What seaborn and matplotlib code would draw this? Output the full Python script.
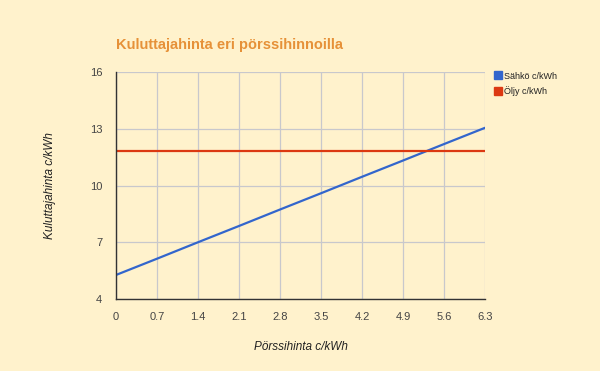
import matplotlib
matplotlib.use("Agg")
import matplotlib.pyplot as plt
import seaborn as sns
import pandas as pd
from matplotlib.lines import Line2D

x_vals = [0, 0.7, 1.4, 2.1, 2.8, 3.5, 4.2, 4.9, 5.6, 6.3]
sahko = [5.27, 6.13, 7.0, 7.86, 8.73, 9.59, 10.46, 11.32, 12.19, 13.05]
oljy = [11.83, 11.83, 11.83, 11.83, 11.83, 11.83, 11.83, 11.83, 11.83, 11.83]
series_names = ["Sähkö c/kWh", "Öljy c/kWh"]
y_ticks = [4, 7, 10, 13, 16]
x_ticks = x_vals
x_tick_labels = ["0", "0.7", "1.4", "2.1", "2.8", "3.5", "4.2", "4.9", "5.6", "6.3"]
colors = ["#3366CC", "#DC3912"]

df = pd.DataFrame({
    "x": x_vals * 2,
    "y": sahko + oljy,
    "s": [series_names[0]] * len(x_vals) + [series_names[1]] * len(x_vals),
})

sns.set_theme(style="white")
plt.rcParams["font.family"] = ["Arial", "Liberation Sans", "DejaVu Sans"]
bg = "#FFF2CC"
fig = plt.figure(figsize=(6, 3.71), dpi=100, facecolor=bg)
ax = fig.add_axes([116/600, 1-299/371, (485-116)/600, (299-72)/371])
ax.set_facecolor(bg)

sns.lineplot(data=df, x="x", y="y", hue="s", palette=colors, linewidth=1.6, ax=ax, legend=False, zorder=3)

ax.set_xlim(0, 6.3)
ax.set_ylim(4, 16)
ax.set_xticks(x_ticks)
ax.set_xticklabels(x_tick_labels)
ax.set_yticks(y_ticks)
ax.grid(True, color="#C8C8CC", linewidth=0.9)
for s in ["top", "right"]:
    ax.spines[s].set_visible(False)
for s in ["left", "bottom"]:
    ax.spines[s].set_color("#333333")
    ax.spines[s].set_linewidth(1.0)
    ax.spines[s].set_zorder(4)
ax.tick_params(axis="both", length=0, labelsize=8, colors="#444444")
ax.tick_params(axis="y", pad=10)
ax.tick_params(axis="x", pad=9)

ax.set_xlabel("Pörssihinta c/kWh", fontsize=8.5, style="italic", color="#222222", labelpad=14)
ax.set_ylabel("Kuluttajahinta c/kWh", fontsize=8.5, style="italic", color="#222222", labelpad=24)

fig.text(116/600, 1-45/371, "Kuluttajahinta eri pörssihinnoilla", fontsize=10.5, fontweight="bold",
         color="#E69138", ha="left", va="center")

handles = [Line2D([0], [0], marker="s", linestyle="none", markersize=6, markerfacecolor=c, markeredgecolor=c)
           for c in colors]
leg = fig.legend(handles, series_names, loc="upper left", bbox_to_anchor=(490/600, 1-68/371),
                 frameon=False, fontsize=6.5, handletextpad=0.2, labelspacing=0.6, borderaxespad=0,
                 handlelength=1.0)
for t in leg.get_texts():
    t.set_color("#222222")

fig.savefig("out.png", dpi=100, facecolor=bg)
